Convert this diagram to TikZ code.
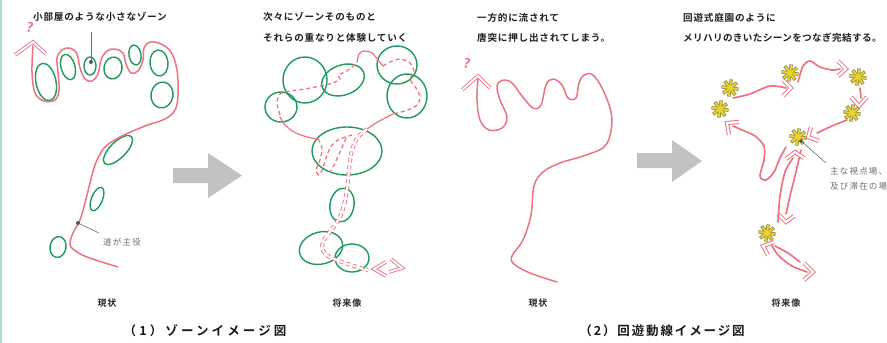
\documentclass[tikz,border=0pt]{standalone}
\usepackage{fontspec}
\newfontfamily\jp{Noto Sans CJK JP}[BoldFont={Noto Sans CJK JP Bold}]
\definecolor{pk}{RGB}{239,114,131}
\definecolor{gz}{RGB}{31,154,92}
\definecolor{garrow}{RGB}{194,194,194}
\definecolor{mint}{RGB}{172,222,204}
\definecolor{styl}{RGB}{232,212,48}
\definecolor{stout}{RGB}{140,128,60}
\definecolor{notegrey}{RGB}{110,110,110}
\tikzset{
  ast/.pic={
    \foreach \a in {0,45,90,135} {\draw[line width=3.4pt,draw=stout,line cap=butt] (\a+8:8.6) -- (\a+188:8.6);}
    \foreach \a in {0,45,90,135} {\draw[line width=2.0pt,draw=styl,line cap=butt] (\a+8:7.9) -- (\a+188:7.9);}
  }
}
\begin{document}
\begin{tikzpicture}[x=1pt,y=-1pt,
  redline/.style={draw=pk,line width=1.5pt,line cap=round,line join=round},
  zone/.style={draw=gz,line width=1.4pt},
  dashline/.style={draw=pk,line width=1.3pt,dash pattern=on 4pt off 3pt},
  dbldash/.style={draw=pk,line width=0.9pt,double=white,double distance=2.2pt,dash pattern=on 4pt off 3pt},
  tube/.style={draw=pk,line width=1.7pt,line cap=round,line join=round},
  chev/.style={draw=pk,line width=0.9pt,double=white,double distance=1.8pt,line join=miter},
  chevb/.style={draw=pk,line width=1pt,double=white,double distance=2.2pt,line join=miter},
  note/.style={font=\jp\bfseries\fontsize{9.6}{11}\selectfont\addfontfeature{LetterSpace=8},anchor=west,inner sep=0pt,text=black!88},
  capt/.style={font=\jp\bfseries\fontsize{9}{10}\selectfont\addfontfeature{LetterSpace=10},inner sep=0pt,text=black!85},
  smallnote/.style={font=\jp\fontsize{8.5}{10}\selectfont\addfontfeature{LetterSpace=14},anchor=west,inner sep=0pt,text=notegrey},
  headtext/.style={inner sep=0pt,text=black!90},
  pointer/.style={draw=notegrey,line width=0.6pt},
  qmark/.style={font=\jp\bfseries\fontsize{13}{14}\selectfont,text=pk,inner sep=0pt}
]
\useasboundingbox (0,0) rectangle (887,343);
\fill[white] (0,0) rectangle (887,343);
\fill[mint] (0,0) rectangle (2.2,343);

% ---------------- texts ----------------
\node[note] (t1) at (33,17) {小部屋のような小さなゾーン};
\node[note] (t2a) at (263,17) {次々にゾーンそのものと};
\node[note] (t2b) at (263,38) {それらの重なりと体験していく};
\node[note] (t3a) at (477,18) {一方的に流されて};
\node[note] (t3b) at (477,38) {唐突に押し出されてしまう。};
\node[note] (t4a) at (683,18) {回遊式庭園のように};
\node[note,font=\jp\bfseries\fontsize{9.6}{11}\selectfont\addfontfeature{LetterSpace=4}] (t4b) at (683,38) {メリハリのきいたシーンをつなぎ完結する。};
\node[smallnote] (n1) at (103,242) {道が主役};
\node[smallnote] (n2a) at (830,171) {主な視点場、};
\node[smallnote] (n2b) at (830,186) {及び滞在の場};
\node[capt] (c1) at (107,303) {現状};
\node[capt] (c2) at (347,303) {将来像};
\node[capt] (c3) at (538,303) {現状};
\node[capt] (c4) at (786,303) {将来像};
\node[headtext,font=\jp\bfseries\fontsize{12.5}{14}\selectfont\addfontfeature{LetterSpace=25}] (h1) at (205,331) {（1）ゾーンイメージ図};
\node[headtext,font=\jp\bfseries\fontsize{12.5}{14}\selectfont\addfontfeature{LetterSpace=15}] (h2) at (662,331) {（2）回遊動線イメージ図};

% ---------------- grey arrows ----------------
\fill[garrow] (173,168) -- (208,168) -- (208,153) -- (242,175.5) -- (208,198) -- (208,183) -- (173,183) -- cycle;
\fill[garrow] (637,153) -- (672,153) -- (672,140) -- (702,161) -- (672,182) -- (672,168) -- (637,168) -- cycle;

% ---------------- panel 1 ----------------
\draw[zone,rotate around={12:(46,82)}] (46,82) ellipse [x radius=10,y radius=19];
\draw[zone,rotate around={15:(68,67)}] (68,67) ellipse [x radius=7,y radius=13];
\draw[zone] (90,66) ellipse [x radius=6,y radius=9];
\draw[zone,rotate around={-10:(113,68)}] (113,68) ellipse [x radius=9,y radius=11];
\draw[zone,rotate around={10:(135,55)}] (135,55) ellipse [x radius=6,y radius=10];
\draw[zone,rotate around={5:(159,63)}] (159,63) ellipse [x radius=9,y radius=13];
\draw[zone,rotate around={-10:(162,95)}] (162,95) ellipse [x radius=11,y radius=13];
\draw[zone,rotate around={-45:(118,150)}] (118,150) ellipse [x radius=8,y radius=19];
\draw[zone,rotate around={-22:(97,199)}] (97,199) ellipse [x radius=5.5,y radius=12.5];
\draw[zone,rotate around={-10:(58,247)}] (58,247) ellipse [x radius=8,y radius=10.5];

\draw[redline] plot[smooth,tension=0.6] coordinates {(33,46) (32,72) (35,93) (44,101) (55,100) (59,90) (58,72) (57,58) (62,50) (70,48) (77,54) (80,68) (85,79) (92,81) (98,74) (101,60) (107,51) (115,49) (123,53) (126,64) (131,73) (138,71) (143,60) (144,48) (150,42) (161,44) (171,52) (177,70) (178,95) (175,110) (165,119) (145,126) (122,136) (106,146) (99,156) (94,168) (89,187) (85,203) (80,220) (73,233) (70,243) (73,249) (87,257) (118,267)};
\draw[chev] (15,55) -- (33,42) -- (46,54);
\node[qmark,rotate=-12] (q1) at (30,27) {?};

\coordinate (d1) at (91,62);
\draw[pointer] (91,32) -- (d1);
\fill[notegrey!80!black] (d1) circle (2);
\coordinate (d2) at (78,223);
\draw[pointer] (d2) -- (99,233);
\fill[notegrey!80!black] (d2) circle (2);

% ---------------- panel 2 ----------------
\draw[zone] (305,80) ellipse [x radius=22,y radius=23];
\draw[zone,rotate around={20:(343,80)}] (343,80) ellipse [x radius=22,y radius=15];
\draw[zone] (281,107) ellipse [x radius=16,y radius=15];
\draw[zone] (397,65) ellipse [x radius=20,y radius=19];
\draw[zone] (407,96) ellipse [x radius=20,y radius=22];
\draw[zone] (347,151) ellipse [x radius=35,y radius=24];
\draw[zone,rotate around={-10:(342,205)}] (342,205) ellipse [x radius=12,y radius=17];
\draw[zone,rotate around={15:(321,248)}] (321,248) ellipse [x radius=22,y radius=16];
\draw[zone] (352,258) ellipse [x radius=17,y radius=14];

\draw[redline,line width=1.2pt] plot[smooth] coordinates {(280,117) (285,125) (294,132) (307,137) (318,139)};
\draw[redline,line width=1.2pt] plot[smooth] coordinates {(357,62) (359,54) (364,51) (372,53) (378,60) (383,66)};
\draw[redline,line width=1.2pt] plot[smooth] coordinates {(393,114) (385,118) (376,123) (367,129)};
\draw[dashline] plot[smooth] coordinates {(280,115) (277,103) (280,94) (290,91) (305,89) (320,86) (333,83) (340,79) (338,75) (345,72) (352,67) (357,62)};
\draw[dashline] plot[smooth] coordinates {(383,66) (390,62) (400,59) (410,63) (414,72) (410,79) (416,88) (420,97) (417,105) (408,110) (393,114)};
\draw[dashline] plot[smooth] coordinates {(318,139) (322,148) (320,160) (316,170) (319,175) (323,168) (327,155) (332,145) (340,139) (352,135)};
\draw[dashline] plot[smooth] coordinates {(346,138) (340,152) (334,165) (330,172)};
\draw[dbldash] plot[smooth] coordinates {(367,129) (358,137) (352,150) (349,170) (347,190) (344,205) (340,217) (333,228) (325,238) (322,248) (328,256) (342,262) (360,268) (368,270)};
\draw[chev] (386,262) -- (374,269) -- (386,276);
\draw[chev] (391,259) -- (402,268) -- (389,272);

% ---------------- panel 3 ----------------
\draw[redline] plot[smooth,tension=0.6] coordinates {(478,79) (477,100) (480,120) (489,130) (502,128) (507,117) (500,100) (497,86) (503,80) (512,83) (522,96) (533,108) (541,105) (546,85) (553,79) (562,85) (568,98) (576,98) (579,83) (584,75) (593,75) (603,90) (611,112) (611,131) (604,147) (583,156) (560,163) (543,172) (534,186) (531,215) (523,240) (512,256) (514,264) (530,273) (557,282)};
\draw[chev] (462,90) -- (478,76) -- (490,88);
\node[qmark,rotate=-12] (q3) at (467,63) {?};

% ---------------- panel 4 ----------------
\draw[tube] plot[smooth] coordinates {(733,98) (750,94) (770,86) (786,88)};
\draw[chevb] (783,80) -- (791,88) -- (783,96);
\draw[tube] plot[smooth] coordinates {(798,82) (803,66) (810,61) (820,67) (832,70) (840,69)};
\draw[chevb] (838,61) -- (846,69) -- (838,76);
\draw[tube] plot[smooth] coordinates {(860,88) (861,98)};
\draw[chevb] (851,97) -- (859,106) -- (867,97);
\draw[tube] plot[smooth] coordinates {(847,120) (832,126) (817,133)};
\draw[chevb] (811,127) -- (808,137) -- (819,141);
\draw[tube] plot[smooth] coordinates {(786,147) (780,158) (774,172) (766,180) (760,176) (764,160) (764,146) (755,136) (742,130) (733,126)};
\draw[chevb] (739,122) -- (727,123) -- (729,135);
\draw[tube] plot[smooth] coordinates {(801,150) (796,172) (790,196) (786,214)};
\draw[chevb] (778,214) -- (786,222) -- (794,216);
\draw[tube] plot[smooth] coordinates {(778,222) (780,196) (785,172) (793,158)};
\draw[chevb] (786,159) -- (795,152) -- (804,158);
\draw[tube] plot[smooth] coordinates {(770,242) (778,255) (792,266) (807,272)};
\draw[chevb] (804,263) -- (813,272) -- (804,280);
\draw[tube] plot[smooth] coordinates {(800,262) (788,253) (775,246)};
\draw[chevb] (774,242) -- (763,246) -- (768,255);

\pic at (730,88) {ast};
\pic at (720,109) {ast};
\pic at (790,73) {ast};
\pic at (858,77) {ast};
\pic at (852,113) {ast};
\pic at (798,137) {ast};
\pic at (767,233) {ast};
\coordinate (d3) at (801,141);
\draw[pointer] (d3) -- (826,163);
\fill[black!70] (d3) circle (1.8);
\end{tikzpicture}
\end{document}
